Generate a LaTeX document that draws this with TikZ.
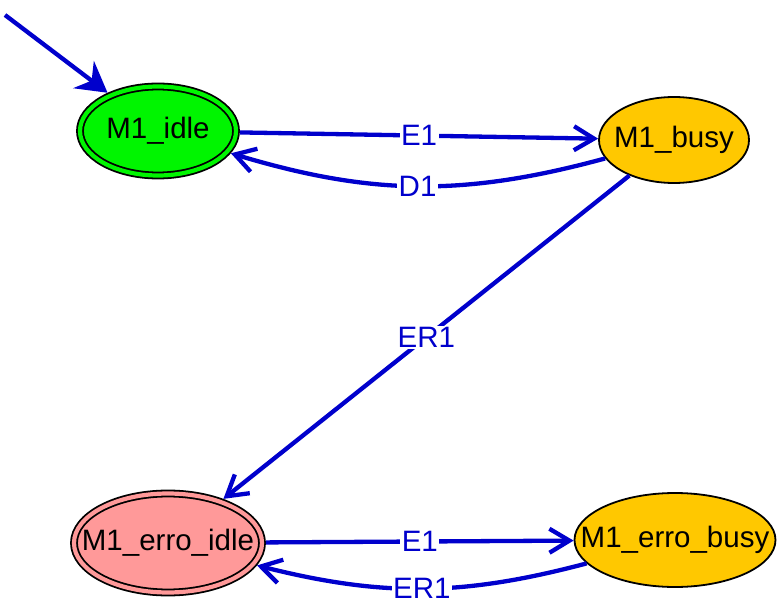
\documentclass[tikz,border=0pt]{standalone}
\usepackage{fontspec}
\setmainfont{Liberation Sans}
\usetikzlibrary{arrows.meta,shapes.geometric}
\definecolor{transblue}{RGB}{0,0,204}
\definecolor{idlegreen}{RGB}{0,245,0}
\definecolor{busygold}{RGB}{255,200,0}
\definecolor{erropink}{RGB}{255,153,153}
\newcommand{\statefont}{\fontsize{29.5}{35}\selectfont}
\tikzstyle{state}=[ellipse,draw=black,line width=1.8pt,inner sep=0pt,label={[font=\statefont,inner sep=0pt]center:#1}]
\tikzstyle{finalstate}=[state=#1,double distance=4.2pt,outer sep=4pt]
\tikzstyle{transition}=[draw=transblue,line width=4.3pt,-{Straight Barb[length=20pt,width=24pt]}]
\tikzstyle{translabel}=[fill=white,text=transblue,inner sep=1.5pt,font=\statefont]

\begin{document}
\begin{tikzpicture}[x=1pt,y=-1pt]
	\useasboundingbox (0,0) rectangle (780,615);
	% states
	\node[finalstate=M1\_idle,fill=idlegreen,double=idlegreen,minimum width=156pt,minimum height=89pt] (idle) at (158,131) {};
	\node[state=M1\_busy,fill=busygold,minimum width=150pt,minimum height=86pt] (busy) at (674,140) {};
	\node[finalstate=M1\_erro\_idle,fill=erropink,double=erropink,minimum width=188pt,minimum height=99pt] (erroidle) at (168,543) {};
	\node[state=M1\_erro\_busy,fill=busygold,minimum width=201pt,minimum height=94pt] (errobusy) at (675,540) {};
	\coordinate (start) at (5,15);
	% transitions
	\draw[draw=transblue,line width=4.3pt,-{Stealth[length=30pt,width=34pt,inset=10pt]}] (start) -- (idle);
	\draw[transition] (idle) -- (busy) node[midway,translabel] {E1};
	\draw[transition] (busy) to[bend left=16] node[midway,translabel] {D1} (idle);
	\draw[transition] (busy) -- (erroidle) node[midway,translabel] {ER1};
	\draw[transition] (erroidle) -- (errobusy) node[midway,translabel] {E1};
	\draw[transition] (errobusy) to[bend left=14.5] node[midway,translabel] {ER1} (erroidle); %back to error idle
\end{tikzpicture}
\end{document}
